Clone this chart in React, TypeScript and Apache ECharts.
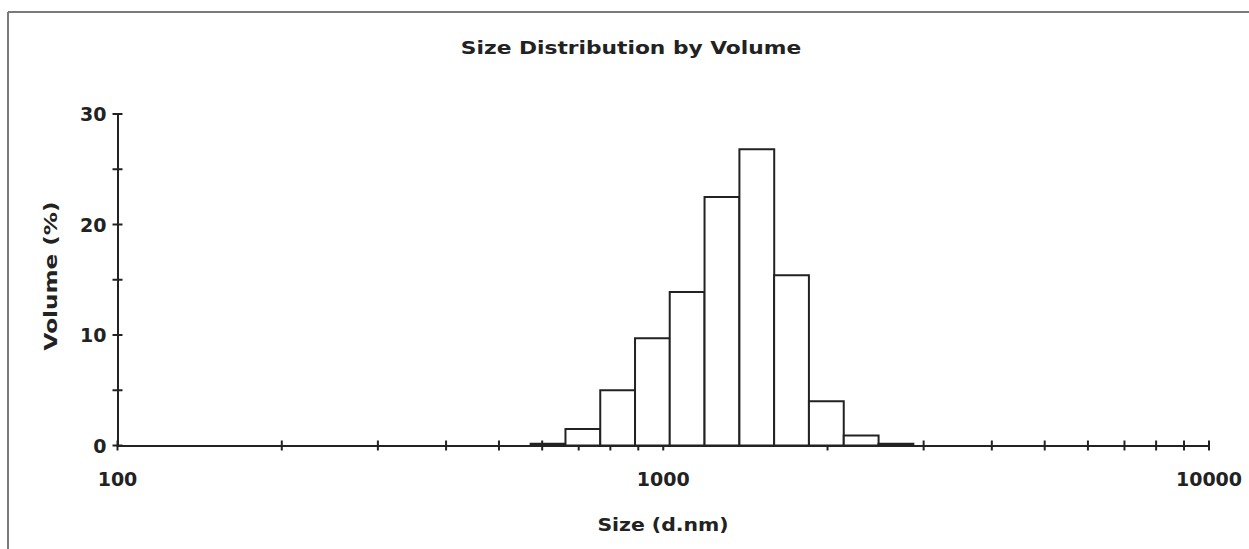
import React, { useEffect, useRef } from "react";
import * as echarts from "echarts";

// Zetasizer size classes (d.nm) and volume percentages
const sizeClasses = [615.1, 712.4, 825.0, 955.4, 1106, 1281, 1484, 1718, 1990, 2305, 2669];
const volumes = [0.15, 1.5, 5.0, 9.7, 13.9, 22.5, 26.8, 15.4, 4.0, 0.9, 0.15];

const xTickValues = [
  100, 200, 300, 400, 500, 600, 700, 800, 900,
  1000, 2000, 3000, 4000, 5000, 6000, 7000, 8000, 9000, 10000,
];
const yTickValues = [0, 5, 10, 15, 20, 25, 30];

const titleText = "Size Distribution by Volume";
const xName = "Size (d.nm)";
const yName = "Volume (%)";

const FONT = "DejaVu Sans";
const INK = "#222";

export default function App() {
  const ref = useRef<HTMLDivElement>(null);

  useEffect(() => {
    if (!ref.current) return;
    const chart = echarts.init(ref.current, undefined, { renderer: "svg" });
    const ratio = sizeClasses[1] / sizeClasses[0];
    const half = Math.sqrt(ratio);

    chart.setOption({
      animation: false,
      backgroundColor: "#fff",
      grid: { left: 117.5, right: 40, top: 114, bottom: 103.5 },
      xAxis: {
        type: "log",
        logBase: 10,
        min: 100,
        max: 10000,
        axisLine: { show: true, lineStyle: { color: INK, width: 2 } },
        axisTick: { show: false },
        minorTick: { show: false },
        splitLine: { show: false },
        axisLabel: {
          margin: 24,
          fontFamily: FONT,
          fontWeight: "bold",
          fontSize: 19,
          color: INK,
          formatter: (v: number) => String(Math.round(v)),
        },
      },
      yAxis: {
        type: "value",
        min: 0,
        max: 30,
        interval: 10,
        axisLine: { show: true, lineStyle: { color: INK, width: 2 } },
        axisTick: { show: false },
        splitLine: { show: false },
        axisLabel: {
          margin: 11,
          fontFamily: FONT,
          fontWeight: "bold",
          fontSize: 19,
          color: INK,
        },
      },
      graphic: [
        {
          type: "line",
          shape: { x1: 8, y1: 12, x2: 1249, y2: 12 },
          style: { stroke: "#7a7a7a", lineWidth: 2 },
        },
        {
          type: "line",
          shape: { x1: 8, y1: 12, x2: 8, y2: 549 },
          style: { stroke: "#7a7a7a", lineWidth: 2 },
        },
        {
          type: "text",
          x: 631,
          y: 48,
          scaleX: 1.28,
          style: {
            text: titleText,
            fontFamily: FONT,
            fontWeight: "bold",
            fontSize: 17,
            fill: INK,
            textAlign: "center",
            textVerticalAlign: "middle",
          },
        },
        {
          type: "text",
          x: 663,
          y: 525,
          scaleX: 1.2,
          style: {
            text: xName,
            fontFamily: FONT,
            fontWeight: "bold",
            fontSize: 17,
            fill: INK,
            textAlign: "center",
            textVerticalAlign: "middle",
          },
        },
        {
          type: "text",
          x: 51,
          y: 276,
          rotation: Math.PI / 2,
          scaleX: 1.36,
          style: {
            text: yName,
            fontFamily: FONT,
            fontWeight: "bold",
            fontSize: 17,
            fill: INK,
            textAlign: "center",
            textVerticalAlign: "middle",
          },
        },
      ],
      series: [
        {
          type: "custom",
          name: "xticks",
          z: 1,
          silent: true,
          data: xTickValues.map((v) => [v, 0]),
          renderItem: (params: any, api: any) => {
            const p = api.coord([api.value(0), 0]);
            return {
              type: "line",
              shape: { x1: p[0], y1: p[1] - 5, x2: p[0], y2: p[1] + 5 },
              style: { stroke: INK, lineWidth: 2 },
            };
          },
        },
        {
          type: "custom",
          name: "yticks",
          z: 1,
          silent: true,
          data: yTickValues.map((v) => [100, v]),
          renderItem: (params: any, api: any) => {
            const p = api.coord([100, api.value(1)]);
            return {
              type: "line",
              shape: { x1: p[0] - 5, y1: p[1], x2: p[0] + 5, y2: p[1] },
              style: { stroke: INK, lineWidth: 2 },
            };
          },
        },
        {
          type: "custom",
          name: "Volume",
          z: 3,
          data: sizeClasses.map((s, i) => [s, volumes[i]]),
          renderItem: (params: any, api: any) => {
            const c = api.value(0);
            const v = api.value(1);
            const tl = api.coord([c / half, v]);
            const br = api.coord([c * half, 0]);
            return {
              type: "rect",
              shape: { x: tl[0], y: tl[1], width: br[0] - tl[0], height: br[1] - tl[1] },
              style: { fill: "#fff", stroke: INK, lineWidth: 2 },
            };
          },
        },
      ],
    });
    return () => chart.dispose();
  }, []);

  return (
    <div
      ref={ref}
      style={{ position: "fixed", left: 0, top: 0, width: 1249, height: 549, background: "#fff" }}
    />
  );
}
